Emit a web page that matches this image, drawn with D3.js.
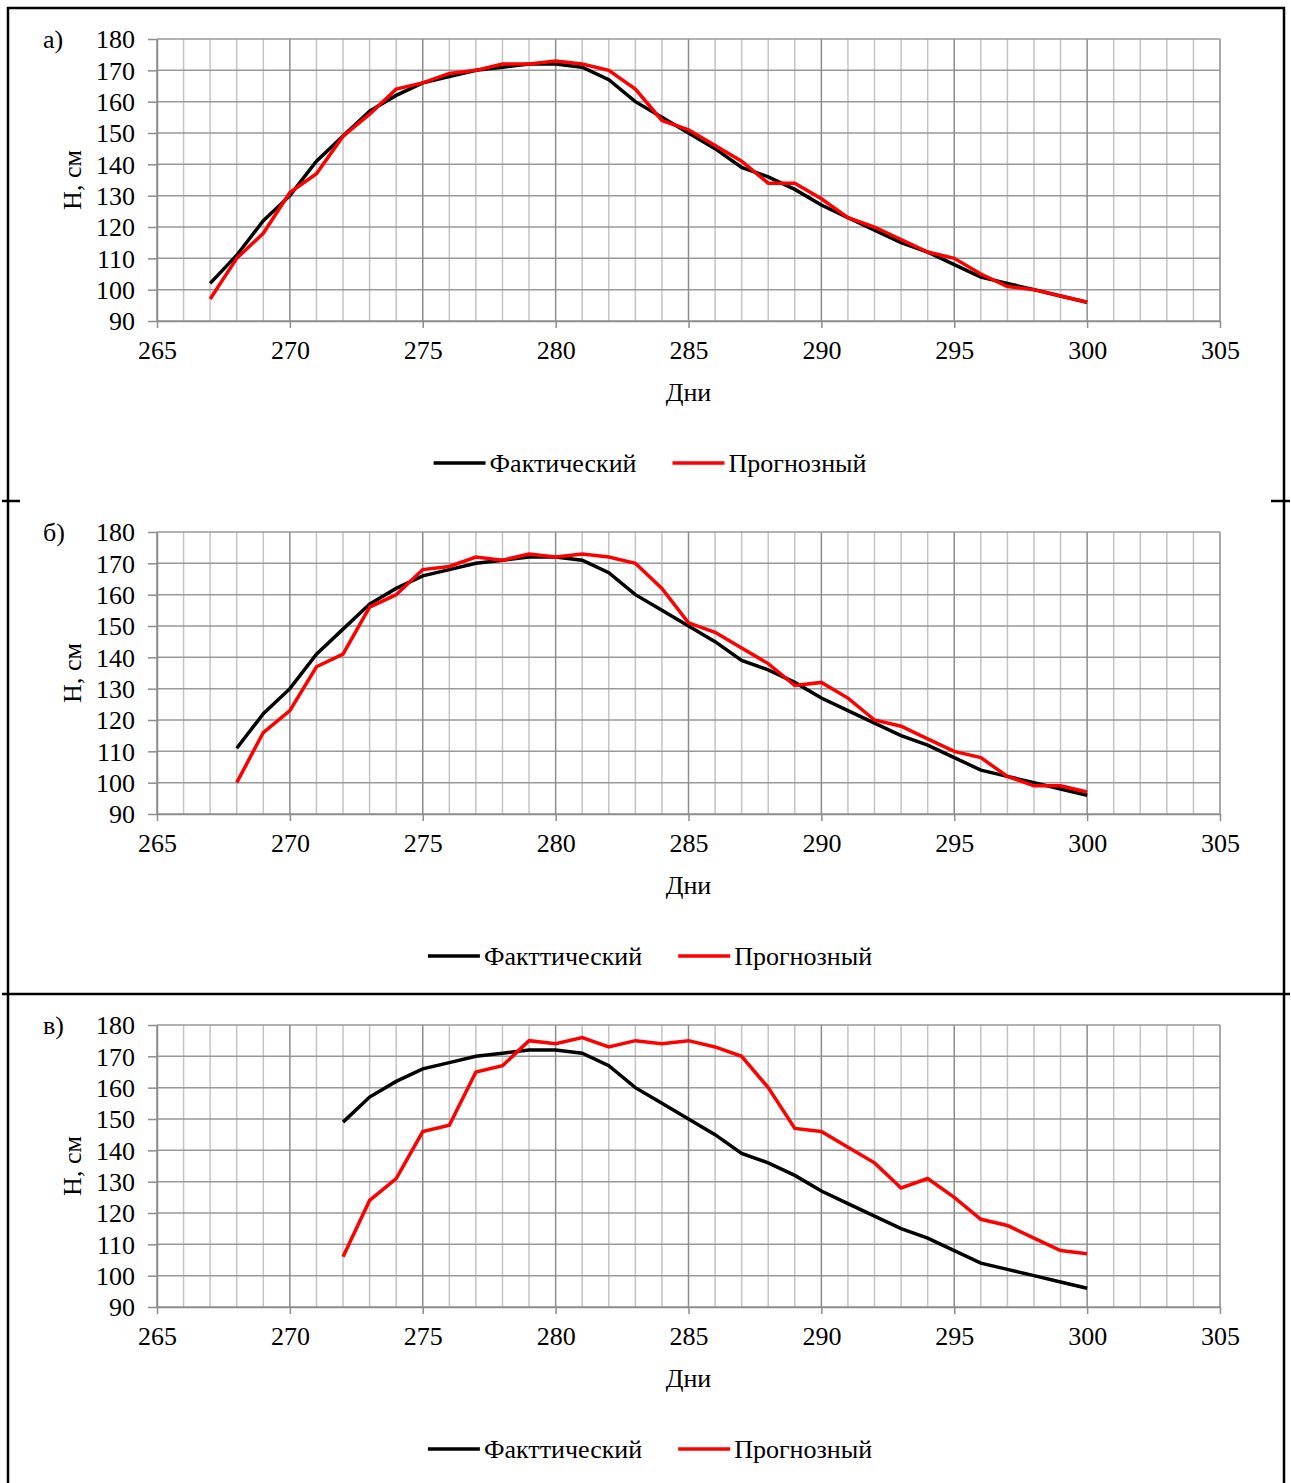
<!DOCTYPE html>
<html>
<head>
<meta charset="utf-8">
<script src="https://cdn.jsdelivr.net/npm/d3@7"></script>
<style>
  body { margin: 0; background: #fff; }
  text { font-family: "Liberation Serif", "Times New Roman", serif; fill: #000; }
</style>
</head>
<body>
<script>
// days for the actual (fact) series
const days = [267, 268, 269, 270, 271, 272, 273, 274, 275, 276, 277, 278, 279, 280, 281, 282, 283,
              284, 285, 286, 287, 288, 289, 290, 291, 292, 293, 294, 295, 296, 297, 298, 299, 300];
const actualH = [102, 111, 122, 130, 141, 149, 157, 162, 166, 168, 170, 171, 172, 172, 171, 167, 160,
                 155, 150, 145, 139, 136, 132, 127, 123, 119, 115, 112, 108, 104, 102, 100, 98, 96];

// forecasts, each starts at its own day
const forecastA = [97, 110, 118, 131, 137, 149, 156, 164, 166, 169, 170, 172, 172, 173, 172, 170, 164,
                   154, 151, 146, 141, 134, 134, 129, 123, 120, 116, 112, 110, 105, 101, 100, 98, 96];
const forecastB = [100, 116, 123, 137, 141, 156, 160, 168, 169, 172, 171, 173, 172, 173, 172, 170,
                   162, 151, 148, 143, 138, 131, 132, 127, 120, 118, 114, 110, 108, 102, 99, 99, 97];
const forecastC = [106, 124, 131, 146, 148, 165, 167, 175, 174, 176, 173, 175, 174, 175, 173,
                   170, 160, 147, 146, 141, 136, 128, 131, 125, 118, 116, 112, 108, 107];

const xTicks = [265, 270, 275, 280, 285, 290, 295, 300, 305];
const yTicks = [90, 100, 110, 120, 130, 140, 150, 160, 170, 180];

const panels = [
  { label: "а)", start: 267, forecast: forecastA, names: ["Фактический", "Прогнозный"] },
  { label: "б)", start: 268, forecast: forecastB, names: ["Факттический", "Прогнозный"] },
  { label: "в)", start: 272, forecast: forecastC, names: ["Факттический", "Прогнозный"] }
];

const FONT = '"Liberation Serif", "Times New Roman", serif';
const W = 1291, H = 1483;
const svg = d3.select("body").append("svg")
    .attr("width", W)
    .attr("height", H)
    .attr("font-family", FONT);

// outer table frame
const frame = svg.append("g").attr("stroke", "#000").attr("stroke-width", 2.5);
frame.append("line").attr("x1", 8).attr("x2", 8).attr("y1", 7).attr("y2", H);
frame.append("line").attr("x1", 1284).attr("x2", 1284).attr("y1", 7).attr("y2", H);
frame.append("line").attr("x1", 7).attr("x2", 1285).attr("y1", 8).attr("y2", 8);
// first separator only shows as short stubs, the second runs across
frame.append("line").attr("x1", 2).attr("x2", 20).attr("y1", 501).attr("y2", 501);
frame.append("line").attr("x1", 1271).attr("x2", 1290).attr("y1", 501).attr("y2", 501);
frame.append("line").attr("x1", 2).attr("x2", 1290).attr("y1", 994).attr("y2", 994);

const x = d3.scaleLinear().domain([265, 305]).range([157, 1220]);
const PANEL_STEP = 493;

panels.forEach((p, i) => {
  const top = 39 + i * PANEL_STEP, bottom = top + 282;
  const y = d3.scaleLinear().domain([90, 180]).range([bottom, top]);
  const g = svg.append("g");

  // minor vertical grid, every day
  const minor = d3.range(266, 305).filter(d => d % 5 !== 0);
  g.append("g").selectAll("line").data(minor).join("line")
      .attr("x1", d => x(d)).attr("x2", d => x(d))
      .attr("y1", top).attr("y2", bottom)
      .attr("stroke", "#c4c4c4").attr("stroke-width", 1.5);

  // horizontal grid
  g.append("g").selectAll("line").data(yTicks).join("line")
      .attr("x1", x(265)).attr("x2", x(305))
      .attr("y1", d => y(d)).attr("y2", d => y(d))
      .attr("stroke", "#999").attr("stroke-width", 1.5);

  // major vertical grid
  g.append("g").selectAll("line").data(xTicks).join("line")
      .attr("x1", d => x(d)).attr("x2", d => x(d))
      .attr("y1", top).attr("y2", bottom)
      .attr("stroke", "#8c8c8c").attr("stroke-width", 1.5);

  // axes
  const xAxis = g.append("g")
      .attr("transform", `translate(0,${bottom})`)
      .call(d3.axisBottom(x).tickValues(xTicks).tickSize(7).tickSizeOuter(0).tickPadding(13));
  const yAxis = g.append("g")
      .attr("transform", `translate(${x(265)},0)`)
      .call(d3.axisLeft(y).tickValues(yTicks).tickSize(9).tickSizeOuter(0).tickPadding(13));
  [xAxis, yAxis].forEach(a => {
    a.attr("font-family", FONT).attr("font-size", 26);
    a.select(".domain").attr("stroke", "#8c8c8c").attr("stroke-width", 1.5);
    a.selectAll(".tick line").attr("stroke", "#8c8c8c").attr("stroke-width", 1.5);
    a.selectAll(".tick text").attr("fill", "#000");
  });
  yAxis.selectAll(".tick text").attr("dy", "0.34em");

  // lines
  const line = d3.line().x(d => x(d[0])).y(d => y(d[1]));
  const fact = days.map((d, k) => [d, actualH[k]]).filter(d => d[0] >= p.start);
  const fc = p.forecast.map((v, k) => [p.start + k, v]);

  g.append("path").datum(fact)
      .attr("d", line).attr("fill", "none")
      .attr("stroke", "#000").attr("stroke-width", 3.5);
  g.append("path").datum(fc)
      .attr("d", line).attr("fill", "none")
      .attr("stroke", "#ff0000").attr("stroke-width", 3.5);

  // labels
  g.append("text").attr("x", 43).attr("y", top + 9)
      .attr("font-size", 26).text(p.label);
  g.append("text")
      .attr("transform", `translate(81,${(top + bottom) / 2}) rotate(-90)`)
      .attr("text-anchor", "middle")
      .attr("font-size", 26).text("Н, см");
  g.append("text").attr("x", (x(265) + x(305)) / 2).attr("y", bottom + 80)
      .attr("text-anchor", "middle")
      .attr("font-size", 26).text("Дни");

  // legend
  const leg = g.append("g");
  const colors = ["#000", "#ff0000"];
  let cx = 0;
  p.names.forEach((name, k) => {
    leg.append("line").attr("x1", cx).attr("x2", cx + 52)
        .attr("y1", 0).attr("y2", 0)
        .attr("stroke", colors[k]).attr("stroke-width", 3.5);
    const t = leg.append("text").attr("x", cx + 56).attr("y", 9)
        .attr("font-size", 26).text(name);
    cx += 56 + t.node().getComputedTextLength() + 36;
  });
  const legW = cx - 36;
  leg.attr("transform", `translate(${650 - legW / 2},${bottom + 142})`);
});
</script>
</body>
</html>
